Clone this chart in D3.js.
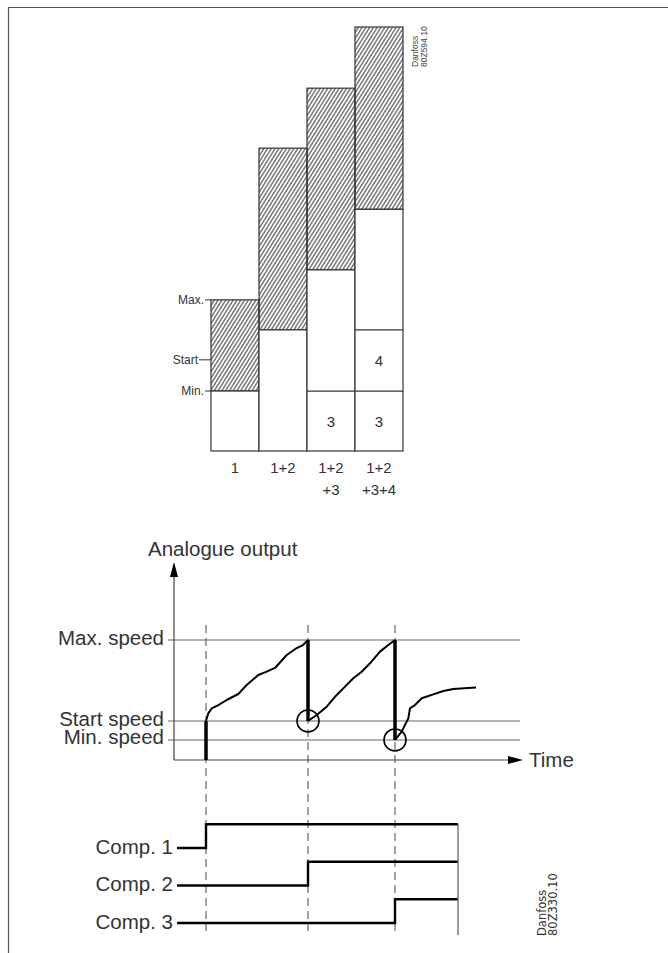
<!DOCTYPE html>
<html><head><meta charset="utf-8">
<script src="https://cdn.jsdelivr.net/npm/d3@7"></script>
<style>html,body{margin:0;padding:0;background:#fff;}svg{display:block;font-family:"Liberation Sans",Arial,sans-serif;}</style>
</head><body>
<script>
// ---------- Top chart data ----------
const categories = ["1", "1+2", "1+2\n+3", "1+2\n+3+4"];
const whiteTop = [1, 2.02, 3.02, 4.03];        // top of un-hatched part
const hatchTop = [2.52, 5.05, 6.05, 7.07];     // top of hatched part
const compDividers = [[], [], [1], [1, 2.02]]; // inner compressor divisions
const innerLabels = [[], [], [{lo:0, hi:1, t:"3"}], [{lo:0, hi:1, t:"3"}, {lo:1, hi:2.02, t:"4"}]];
const levelNames = ["Max.", "Start", "Min."];
const levelValues = [2.52, 1.52, 1];

// ---------- Bottom chart data ----------
const speedNames = ["Max. speed", "Start speed", "Min. speed"];
const speedValues = [100, 32.5, 16.7];
const switchTimes = [32, 134, 221];
const ramp1 = [[32,32.5],[34.3,38.9],[37.7,43.1],[44.3,45.8],[52.7,50],[64.3,55],[72.7,62.5],[84.3,70.8],[92.7,73.6],[101,76.7],[112.7,87.5],[122.7,93.3],[129,95.8],[134,100]];
const ramp2 = [[134,32.5],[142.7,37.5],[152.7,44.4],[162.7,54.2],[169.3,59.7],[179.3,68.1],[187.7,73.6],[196,80.6],[206,90.3],[214.3,95.8],[221,100]];
const ramp3 = [[221,16.7],[227.7,23.6],[234.3,34.7],[236,43.1],[241,45.8],[247.7,51.4],[259.3,54.7],[269.3,57.5],[279.3,59.2],[302,60.4]];
const drops = [[32,0,32.5],[134,100,32.5],[221,100,16.7]];
const circles = [[134,32.5],[221,16.7]];
const compNames = ["Comp. 1", "Comp. 2", "Comp. 3"];
const compOn = [32, 134, 221];
const compStart = 3, compEnd = 284;

const W = 668, H = 953;
const ink = "#333", grey = "#666";
const svg = d3.select("body").append("svg").attr("width", W).attr("height", H);

// frame
svg.append("path").attr("d", `M8.5,${H} V7.5 H${W}`).attr("fill","none").attr("stroke","#555").attr("stroke-width",1.2);

// hatch pattern
const defs = svg.append("defs");
defs.append("pattern").attr("id","hatch").attr("patternUnits","userSpaceOnUse")
  .attr("width",3.2).attr("height",8).attr("patternTransform","rotate(32)")
  .append("line").attr("x1",1.6).attr("x2",1.6).attr("y1",0).attr("y2",8)
  .attr("stroke","#333").attr("stroke-width",1);

// ---------- Top chart ----------
const xb = d3.scaleBand().domain(categories).range([211, 403]).padding(0);
const yb = d3.scaleLinear().domain([0, 7.07]).range([451, 27]);
const gTop = svg.append("g");
categories.forEach((c, i) => {
  const x = xb(c), w = xb.bandwidth();
  gTop.append("rect").attr("x",x).attr("y",yb(hatchTop[i])).attr("width",w)
    .attr("height",yb(whiteTop[i])-yb(hatchTop[i])).attr("fill","url(#hatch)")
    .attr("stroke",ink).attr("stroke-width",1.2);
  gTop.append("rect").attr("x",x).attr("y",yb(whiteTop[i])).attr("width",w)
    .attr("height",yb(0)-yb(whiteTop[i])).attr("fill","#fff")
    .attr("stroke",ink).attr("stroke-width",1.2);
  compDividers[i].forEach(v => gTop.append("line").attr("x1",x).attr("x2",x+w)
    .attr("y1",yb(v)).attr("y2",yb(v)).attr("stroke",ink).attr("stroke-width",1.2));
  innerLabels[i].forEach(l => gTop.append("text").attr("x",x+w/2).attr("y",(yb(l.lo)+yb(l.hi))/2+5.5)
    .attr("text-anchor","middle").attr("font-size",15).attr("fill",ink).text(l.t));
  c.split("\n").forEach((line, k) => gTop.append("text").attr("x",x+w/2).attr("y",473+k*22)
    .attr("text-anchor","middle").attr("font-size",15).attr("fill",ink).text(line));
});
const tickLen = [6, 12, 6];
levelNames.forEach((n, i) => {
  const y = yb(levelValues[i]);
  gTop.append("line").attr("x1",211-tickLen[i]).attr("x2",211).attr("y1",y).attr("y2",y).attr("stroke",ink).attr("stroke-width",1);
  gTop.append("text").attr("x",211-tickLen[i]-1).attr("y",y+4).attr("text-anchor","end")
    .attr("font-size",12).attr("fill",ink).text(n);
});
const tagTop = svg.append("g").attr("font-size",8.5).attr("fill","#444");
tagTop.append("text").attr("transform","translate(418,67) rotate(-90)").text("Danfoss");
tagTop.append("text").attr("transform","translate(427,67) rotate(-90)").text("80Z594.10");

// ---------- Bottom chart ----------
const xt = d3.scaleLinear().domain([0, 349]).range([174, 523]);
const yv = d3.scaleLinear().domain([0, 100]).range([760, 640]);
const bot = svg.append("g");
const fs = 20.5;

// level lines
speedNames.forEach((n, i) => {
  const y = yv(speedValues[i]);
  bot.append("line").attr("x1",xt(-6)).attr("x2",xt(346)).attr("y1",y).attr("y2",y).attr("stroke",grey).attr("stroke-width",1.1);
  bot.append("text").attr("x",xt(-6)-4).attr("y",y+4.5).attr("text-anchor","end")
    .attr("font-size",fs).attr("fill","#333").text(n);
});
// dashed switch lines
switchTimes.forEach(t => bot.append("line").attr("x1",xt(t)).attr("x2",xt(t)).attr("y1",625).attr("y2",931)
  .attr("stroke",grey).attr("stroke-width",1.2).attr("stroke-dasharray","8,5"));

// axes
bot.append("line").attr("x1",xt(0)).attr("x2",xt(0)).attr("y1",yv(0)).attr("y2",576).attr("stroke","#444").attr("stroke-width",1.2);
bot.append("path").attr("d",`M${xt(0)},562 L${xt(0)-4},577 L${xt(0)+4},577 Z`).attr("fill","#000");
bot.append("line").attr("x1",xt(0)).attr("x2",xt(335)).attr("y1",yv(0)).attr("y2",yv(0)).attr("stroke","#444").attr("stroke-width",1.2);
bot.append("path").attr("d",`M${xt(349)},${yv(0)} L${xt(334)},${yv(0)-4} L${xt(334)},${yv(0)+4} Z`).attr("fill","#000");
bot.append("text").attr("x",148).attr("y",556).attr("font-size",fs).attr("fill","#333").text("Analogue output");
bot.append("text").attr("x",529).attr("y",767).attr("font-size",fs).attr("fill","#333").text("Time");

// ramps
const line = d3.line().x(d => xt(d[0])).y(d => yv(d[1]));
[ramp1, ramp2, ramp3].forEach(r => bot.append("path").attr("d",line(r)).attr("fill","none")
  .attr("stroke","#000").attr("stroke-width",2).attr("stroke-linejoin","round"));
drops.forEach(d => bot.append("line").attr("x1",xt(d[0])).attr("x2",xt(d[0])).attr("y1",yv(d[1])).attr("y2",yv(d[2]))
  .attr("stroke","#000").attr("stroke-width",3.5));
circles.forEach(c => bot.append("circle").attr("cx",xt(c[0])).attr("cy",yv(c[1])).attr("r",11)
  .attr("fill","none").attr("stroke","#000").attr("stroke-width",1.6));

// compressor states
const yc = d3.scaleLinear().domain([0, 2]).range([848, 923]);
const stepH = 23.7;
compNames.forEach((n, i) => {
  const lo = yc(i), hi = lo - stepH;
  bot.append("path").attr("d",`M${xt(compStart)},${lo} H${xt(compOn[i])} V${hi} H${xt(compEnd)}`)
    .attr("fill","none").attr("stroke","#000").attr("stroke-width",2.4);
  bot.append("text").attr("x",xt(compStart)-4).attr("y",lo+5.5).attr("text-anchor","end")
    .attr("font-size",fs).attr("fill","#333").text(n);
});
bot.append("line").attr("x1",xt(compEnd)).attr("x2",xt(compEnd)).attr("y1",yc(0)-stepH).attr("y2",935)
  .attr("stroke",grey).attr("stroke-width",1.3);

const tagBot = svg.append("g").attr("font-size",11.5).attr("fill","#333").attr("font-family","DejaVu Sans");
tagBot.append("text").attr("transform","translate(546,936) rotate(-90)").text("Danfoss");
tagBot.append("text").attr("transform","translate(557,936) rotate(-90)").text("80Z330.10");
</script>
</body></html>
